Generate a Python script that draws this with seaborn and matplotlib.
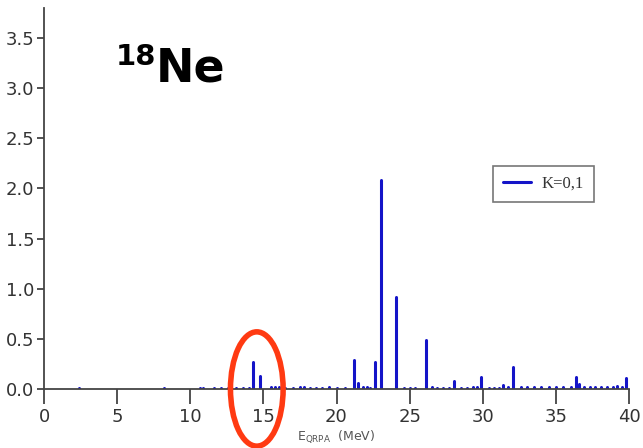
import numpy as np
import pandas as pd
import matplotlib
matplotlib.use("Agg")
import matplotlib.pyplot as plt
from matplotlib.patches import Ellipse
import seaborn as sns

# Main transition peaks (E_QRPA in MeV, strength)
peak_energy = [14.3, 14.8, 21.2, 21.5, 22.6, 23.05, 24.1, 26.1, 28.0, 29.9,
               31.4, 32.1, 36.4, 36.55, 38.9, 39.8]
peak_strength = [0.27, 0.13, 0.29, 0.06, 0.27, 2.08, 0.92, 0.49, 0.08, 0.12,
                 0.04, 0.22, 0.12, 0.05, 0.02, 0.11]

# Very weak transitions appearing as dots along the axis
small_energy = [2.4, 8.2, 10.7, 10.9, 11.6, 12.1, 12.6, 13.1, 13.6, 14.0,
                15.5, 15.8, 16.1, 16.5, 17.0, 17.5, 17.8, 18.2, 18.6, 19.0,
                19.5, 20.0, 20.6, 21.8, 22.1, 22.3, 24.6, 25.0, 25.4, 26.5,
                26.9, 27.3, 27.7, 28.5, 28.9, 29.3, 29.6, 30.4, 30.8, 31.1,
                31.7, 32.6, 33.0, 33.5, 34.0, 34.5, 35.0, 35.5, 36.0, 36.9,
                37.3, 37.7, 38.1, 38.5, 39.2, 39.5]
small_strength = [0.012, 0.010, 0.012, 0.012, 0.010, 0.010, 0.012, 0.010, 0.012, 0.012,
                  0.015, 0.015, 0.015, 0.012, 0.012, 0.020, 0.015, 0.012, 0.012, 0.012,
                  0.020, 0.012, 0.012, 0.015, 0.015, 0.012, 0.012, 0.012, 0.012, 0.015,
                  0.012, 0.012, 0.012, 0.012, 0.012, 0.015, 0.015, 0.012, 0.012, 0.012,
                  0.015, 0.015, 0.015, 0.015, 0.015, 0.015, 0.015, 0.015, 0.015, 0.020,
                  0.015, 0.015, 0.015, 0.020, 0.025, 0.015]

x_ticks = [0, 5, 10, 15, 20, 25, 30, 35, 40]
y_ticks = [0.0, 0.5, 1.0, 1.5, 2.0, 2.5, 3.0, 3.5]
y_tick_labels = ["0.0", "0.5", "1.0", "1.5", "2.0", "2.5", "3.0", "3.5"]
series_label = "K=0,1"

# Build stem data: each peak is a vertical segment from 0 to its strength
energies = peak_energy + small_energy
strengths = peak_strength + small_strength
rows = []
for i, (e, s) in enumerate(zip(energies, strengths)):
    rows.append({"E": e, "S": 0.0, "peak": i, "K": series_label})
    rows.append({"E": e, "S": s, "peak": i, "K": series_label})
df = pd.DataFrame(rows)

sns.set_theme(style="white")
fig = plt.figure(figsize=(6.43, 4.48), dpi=100)
ax = fig.add_axes([44 / 643, 1 - 389 / 448, 585 / 643, 381 / 448])

blue = "#1414c8"
sns.lineplot(data=df, x="E", y="S", units="peak", estimator=None, hue="K",
             palette=[blue], linewidth=2.2, sort=False, ax=ax)

ax.set_xlim(0, 40)
ax.set_ylim(0, 3.8)
ax.set_xticks(x_ticks)
ax.set_xticklabels([str(t) for t in x_ticks])
ax.set_yticks(y_ticks)
ax.set_yticklabels(y_tick_labels)

axis_col = "#444444"
for side in ["top", "right"]:
    ax.spines[side].set_visible(False)
for side in ["left", "bottom"]:
    ax.spines[side].set_color(axis_col)
    ax.spines[side].set_linewidth(1.3)
ax.tick_params(axis="x", direction="out", length=11, width=1.3, color=axis_col,
               labelsize=13, labelcolor="#333333", pad=3)
ax.tick_params(axis="y", direction="out", length=5, width=1.3, color=axis_col,
               labelsize=13, labelcolor="#333333", pad=2)
ax.tick_params(bottom=True, left=True)
ax.set_ylabel("")
ax.set_xlabel(r"E$_{\rm QRPA}$  (MeV)", fontsize=9, color="#555555", labelpad=1)

leg = ax.legend(loc="upper left", bbox_to_anchor=((493 - 44) / 585, (389 - 166) / 381),
                borderaxespad=0.0, frameon=True, fancybox=False,
                handlelength=1.7, handletextpad=0.6,
                prop={"family": "Liberation Serif", "size": 12},
                borderpad=0.6, edgecolor="#555555")
leg.get_frame().set_linewidth(1.2)
for t in leg.get_texts():
    t.set_color("#333333")

# Red ellipse highlighting the low-lying peaks
ell = Ellipse((14.55, 0.0), width=3.6, height=1.14, fill=False,
              edgecolor="#ff3a12", linewidth=4.0, clip_on=False, zorder=5)
ax.add_patch(ell)

# Nucleus label
fig.text(116 / 643, 1 - 65 / 448, "18", fontsize=21, fontweight="bold",
         color="black", ha="left", va="baseline")
fig.text(156 / 643, 1 - 82 / 448, "Ne", fontsize=33, fontweight="bold",
         color="black", ha="left", va="baseline")

fig.savefig("out.png", dpi=100)
